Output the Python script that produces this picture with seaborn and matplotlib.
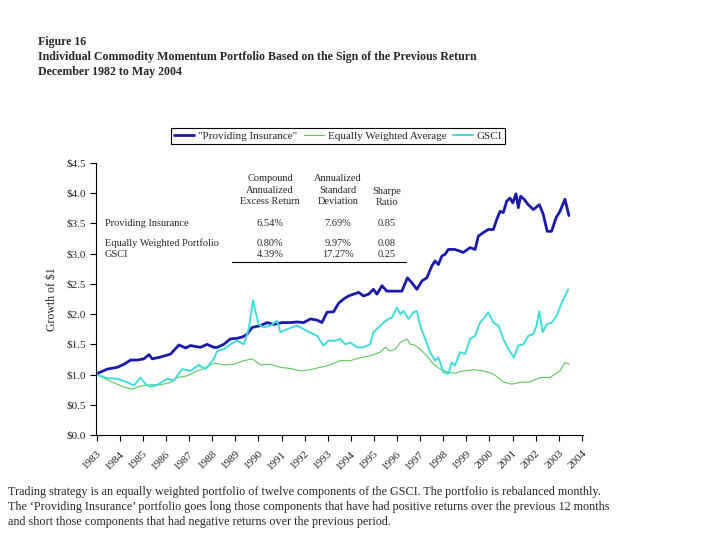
import numpy as np
import pandas as pd
import matplotlib
matplotlib.use("Agg")
import matplotlib.pyplot as plt
import seaborn as sns

# values (decimal year, growth of $1)
pi_year = [1983.00, 1983.03, 1983.46, 1983.89, 1984.18, 1984.47, 1984.76, 1985.04, 1985.26,
           1985.41, 1985.77, 1986.20, 1986.56, 1986.85, 1987.06, 1987.49, 1987.78, 1988.07,
           1988.22, 1988.50, 1988.79, 1989.08, 1989.37, 1989.51, 1989.73, 1990.09, 1990.38,
           1990.66, 1991.03, 1991.38, 1991.67, 1991.96, 1992.25, 1992.54, 1992.75, 1992.97,
           1993.26, 1993.47, 1993.69, 1993.90, 1994.12, 1994.34, 1994.55, 1994.77, 1994.98,
           1995.13, 1995.35, 1995.56, 1995.85, 1996.21, 1996.45, 1996.64, 1996.86, 1997.08,
           1997.29, 1997.51, 1997.65, 1997.79, 1997.94, 1998.08, 1998.22, 1998.51, 1998.73,
           1998.87, 1999.16, 1999.38, 1999.52, 1999.74, 1999.95, 2000.17, 2000.32, 2000.46,
           2000.60, 2000.75, 2000.89, 2001.01, 2001.15, 2001.25, 2001.35, 2001.50, 2001.68,
           2001.90, 2002.16, 2002.33, 2002.50, 2002.69, 2002.88, 2003.05, 2003.27, 2003.44]
pi_value = [1.00, 1.02, 1.09, 1.12, 1.17, 1.24, 1.24, 1.26, 1.33,
            1.26, 1.29, 1.34, 1.49, 1.44, 1.48, 1.45, 1.50, 1.45,
            1.45, 1.50, 1.59, 1.60, 1.63, 1.67, 1.78, 1.81, 1.86,
            1.83, 1.86, 1.86, 1.87, 1.86, 1.92, 1.90, 1.86, 2.03,
            2.04, 2.18, 2.25, 2.30, 2.33, 2.36, 2.30, 2.33, 2.41,
            2.33, 2.47, 2.38, 2.38, 2.38, 2.60, 2.52, 2.41, 2.55,
            2.60, 2.80, 2.88, 2.82, 2.96, 2.99, 3.07, 3.07, 3.04,
            3.02, 3.10, 3.07, 3.29, 3.35, 3.40, 3.40, 3.57, 3.70,
            3.68, 3.87, 3.92, 3.84, 3.99, 3.76, 3.95, 3.90, 3.81,
            3.73, 3.81, 3.65, 3.37, 3.37, 3.59, 3.70, 3.90, 3.63]

ew_year = [1983.00, 1983.53, 1983.89, 1984.18, 1984.54, 1984.90, 1985.33, 1985.77, 1986.20,
           1986.49, 1986.92, 1987.35, 1987.78, 1988.07, 1988.50, 1988.93, 1989.37, 1989.73,
           1990.09, 1990.52, 1990.95, 1991.38, 1991.82, 1992.25, 1992.68, 1993.04, 1993.54,
           1993.98, 1994.41, 1994.84, 1995.27, 1995.49, 1995.71, 1995.92, 1996.14, 1996.43,
           1996.57, 1996.71, 1997.00, 1997.29, 1997.58, 1997.87, 1998.22, 1998.51, 1998.73,
           1999.30, 1999.74, 2000.17, 2000.60, 2000.96, 2001.32, 2001.76, 2002.19, 2002.62,
           2003.05, 2003.27, 2003.45]
ew_value = [1.00, 0.90, 0.84, 0.79, 0.76, 0.81, 0.83, 0.83, 0.87,
            0.95, 0.98, 1.06, 1.12, 1.19, 1.16, 1.17, 1.23, 1.26,
            1.16, 1.17, 1.12, 1.10, 1.06, 1.08, 1.12, 1.15, 1.23,
            1.23, 1.28, 1.31, 1.37, 1.45, 1.39, 1.42, 1.53, 1.59,
            1.50, 1.50, 1.42, 1.31, 1.17, 1.09, 1.04, 1.02, 1.05,
            1.08, 1.06, 1.01, 0.88, 0.84, 0.87, 0.88, 0.95, 0.95,
            1.06, 1.20, 1.17]

gs_year = [1983.00, 1983.46, 1983.89, 1984.33, 1984.61, 1984.90, 1985.12, 1985.33, 1985.62,
           1986.06, 1986.34, 1986.70, 1987.06, 1987.42, 1987.71, 1988.07, 1988.22, 1988.50,
           1988.79, 1989.08, 1989.37, 1989.58, 1989.77, 1989.87, 1990.01, 1990.23, 1990.52,
           1990.81, 1990.95, 1991.24, 1991.67, 1992.11, 1992.54, 1992.82, 1993.04, 1993.33,
           1993.54, 1993.76, 1993.98, 1994.27, 1994.55, 1994.84, 1994.98, 1995.20, 1995.42,
           1995.63, 1995.78, 1995.99, 1996.14, 1996.28, 1996.50, 1996.71, 1996.86, 1997.00,
           1997.22, 1997.43, 1997.65, 1997.79, 1998.01, 1998.22, 1998.37, 1998.51, 1998.73,
           1998.95, 1999.16, 1999.38, 1999.59, 1999.74, 1999.95, 2000.17, 2000.39, 2000.60,
           2000.82, 2001.06, 2001.25, 2001.47, 2001.68, 2001.90, 2002.04, 2002.16, 2002.30,
           2002.48, 2002.69, 2002.91, 2003.13, 2003.41]
gs_value = [1.00, 0.94, 0.93, 0.87, 0.82, 0.95, 0.84, 0.80, 0.83,
            0.93, 0.90, 1.09, 1.06, 1.16, 1.09, 1.26, 1.39, 1.42,
            1.50, 1.56, 1.50, 1.75, 2.23, 2.05, 1.83, 1.78, 1.81,
            1.89, 1.70, 1.75, 1.81, 1.72, 1.64, 1.48, 1.56, 1.56,
            1.59, 1.50, 1.53, 1.45, 1.45, 1.50, 1.70, 1.78, 1.86,
            1.92, 1.94, 2.11, 2.00, 2.05, 1.92, 2.03, 2.05, 1.81,
            1.59, 1.37, 1.23, 1.28, 1.04, 1.01, 1.20, 1.15, 1.37,
            1.34, 1.59, 1.64, 1.86, 1.92, 2.03, 1.86, 1.81, 1.59,
            1.42, 1.28, 1.48, 1.50, 1.64, 1.67, 1.81, 2.05, 1.70,
            1.83, 1.86, 1.97, 2.19, 2.41]

series_names = ['"Providing Insurance"', "Equally Weighted Average", "GSCI"]
year_labels = [str(y) for y in range(1983, 2005)]

table_rows = ["Providing Insurance", "Equally Weighted Portfolio", "GSCI"]
excess_ret = ["6.54%", "0.80%", "4.39%"]
ann_std = ["7.69%", "9.97%", "17.27%"]
sharpe = ["0.85", "0.08", "0.25"]

sns.set_style("ticks")
plt.rcParams["font.family"] = ["Liberation Serif", "DejaVu Serif"]

fig = plt.figure(figsize=(7.2, 5.4), dpi=100)
ax = fig.add_axes([96 / 720, 105 / 540, 487 / 720, 272 / 540])

sns.lineplot(x=pi_year, y=pi_value, ax=ax, color="#1a1aa8", linewidth=2.0, label=series_names[0])
sns.lineplot(x=ew_year, y=ew_value, ax=ax, color="#5cc85c", linewidth=0.8, label=series_names[1])
sns.lineplot(x=gs_year, y=gs_value, ax=ax, color="#3fdcdc", linewidth=1.4, label=series_names[2])

ax.set_xlim(1982.97, 2004.05)
ax.set_ylim(0, 4.5)
ax.set_yticks(np.arange(0, 4.51, 0.5))
ax.set_yticklabels([r"\$%.1f" % v for v in np.arange(0, 4.51, 0.5)], fontsize=8)
ax.set_xticks(range(1983, 2005))
ax.set_xticklabels(year_labels, fontsize=8, rotation=45, ha="right", va="top",
                   rotation_mode="anchor")
ax.tick_params(axis="both", direction="out", length=4, width=0.8, color="black", pad=3)
ax.tick_params(axis="x", pad=6)
ax.set_ylabel(r"Growth of \$1", fontsize=8.5, labelpad=6)
ax.set_xlabel("")
for side in ["top", "right"]:
    ax.spines[side].set_visible(False)
for side in ["left", "bottom"]:
    ax.spines[side].set_color("black")
    ax.spines[side].set_linewidth(0.8)

handles, labels = ax.get_legend_handles_labels()
ax.get_legend().remove()
leg = fig.legend(handles, labels, loc="center", bbox_to_anchor=(338 / 720, 1 - 136 / 540),
                 ncol=3, fontsize=8, frameon=True, fancybox=False, framealpha=1,
                 edgecolor="black", handlelength=1.8, handletextpad=0.35, columnspacing=0.6,
                 borderpad=0.25, borderaxespad=0)
leg.get_frame().set_linewidth(0.8)

# summary table drawn inside the plot area
def fx(px):
    return (px - 96) / 487

def fy(py):
    return (435 - py) / 272

tkw = dict(transform=ax.transAxes, fontsize=7.5, va="center")
ax.text(fx(270), fy(190), "Compound\nAnnualized\nExcess Return", ha="center",
        linespacing=1.3, **tkw)
ax.text(fx(338), fy(190), "Annualized\nStandard\nDeviation", ha="center", linespacing=1.3, **tkw)
ax.text(fx(387), fy(197), "Sharpe\nRatio", ha="center", linespacing=1.3, **tkw)
row_y = [223, 243, 254]
for name, a, b, c, yy in zip(table_rows, excess_ret, ann_std, sharpe, row_y):
    ax.text(fx(105), fy(yy), name, ha="left", **tkw)
    ax.text(fx(270), fy(yy), a, ha="center", **tkw)
    ax.text(fx(338), fy(yy), b, ha="center", **tkw)
    ax.text(fx(387), fy(yy), c, ha="center", **tkw)
ax.plot([fx(232), fx(406)], [fy(262), fy(262)], transform=ax.transAxes, color="black",
        linewidth=0.8)

title = ("Figure 16\n"
         "Individual Commodity Momentum Portfolio Based on the Sign of the Previous Return\n"
         "December 1982 to May 2004")
fig.text(38 / 720, 1 - 36 / 540, title, ha="left", va="top", fontsize=8.6, fontweight="bold",
         linespacing=1.35)

note = ("Trading strategy is an equally weighted portfolio of twelve components of the GSCI. "
        "The portfolio is rebalanced monthly.\n"
        "The \u2018Providing Insurance\u2019 portfolio goes long those components that have had "
        "positive returns over the previous 12 months\n"
        "and short those components that had negative returns over the previous period.")
fig.text(8 / 720, 1 - 486 / 540, note, ha="left", va="top", fontsize=8.7, linespacing=1.35)

fig.savefig("out.png", dpi=100)
